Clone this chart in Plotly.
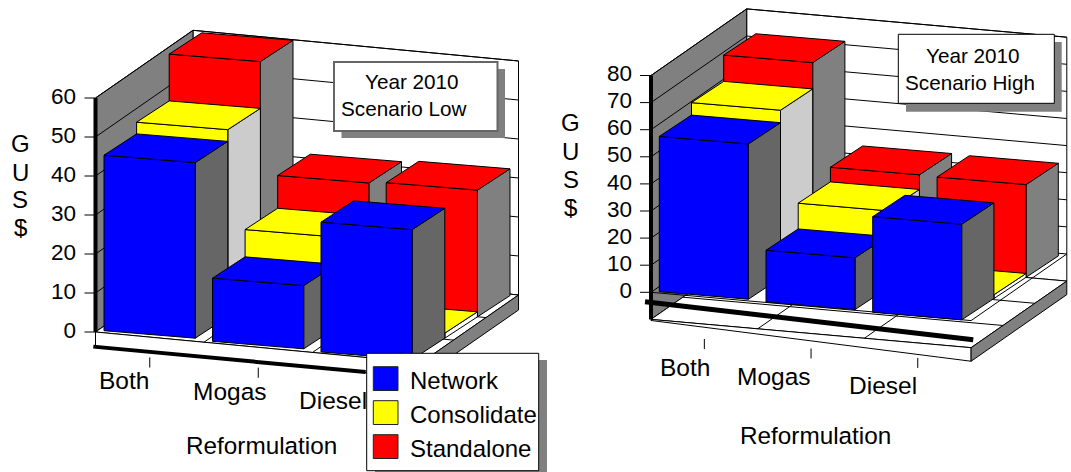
import plotly.graph_objects as go

WIDTH, HEIGHT = 1071, 472
FONT = "Liberation Sans"

# Chart data
categories = ["Both", "Mogas", "Diesel"]
series_names = ["Network", "Consolidate", "Standalone"]
series_fill = ["#0000ff", "#ffff00", "#ff0000"]
series_side = ["#666666", "#cccccc", "#808080"]

low_network = [45, 16.2, 33.3]
low_consolidate = [48, 23.2, 1.3]
low_standalone = [60, 31.6, 32.5]
low_ticks = [0, 10, 20, 30, 40, 50, 60]

high_network = [57.3, 19.1, 35.3]
high_consolidate = [61.9, 28.6, 1.4]
high_standalone = [71.6, 34, 34.2]
high_ticks = [0, 10, 20, 30, 40, 50, 60, 70, 80]

# Oblique projection settings for each panel (pixels on the page)
LOW = dict(
    xa="x", ya="y", ox=95.5, oy=332.0, ux=108.5, uy=3.9, cat_dy=10.23,
    wall_dx=97.5, wall_dy=-67.7, vmin=0, vmax=60,
    gap=8.5, bw=91.2, base_y=330.7, bar_cat_dy=10.65, face_slope=0.082,
    slot_dx=32.6, slot_dy=-21.3,
    series=[low_network, low_consolidate, low_standalone], ticks=low_ticks,
    tick_len=11, label_x=76,
)
HIGH = dict(
    xa="x2", ya="y2", ox=651.0, oy=292.3, ux=106.7, uy=2.71, cat_dy=9.43,
    wall_dx=95.7, wall_dy=-66.6, vmin=-10, vmax=80,
    gap=8.3, bw=89.0, base_y=291.7, bar_cat_dy=10.3, face_slope=0.085,
    slot_dx=32.2, slot_dy=-21.3,
    series=[high_network, high_consolidate, high_standalone], ticks=high_ticks,
    tick_len=11, label_x=632,
)

fig = go.Figure()


def wall_pt(p, c, v, t):
    """Point on the chart box: c categories across, value v, depth fraction t."""
    x = c + t * p["wall_dx"] / p["ux"]
    y = v - c * p["cat_dy"] / p["uy"] - t * p["wall_dy"] / p["uy"]
    return x, y


def bar_pt(p, cat, slot, across, v):
    """Point on a bar: cat index, depth slot, fraction across the face, value v."""
    px = p["ox"] + p["gap"] + cat * p["ux"] + slot * p["slot_dx"] + across * p["bw"]
    py = (p["base_y"] + cat * p["bar_cat_dy"] + slot * p["slot_dy"]
          + across * p["bw"] * p["face_slope"])
    return (px - p["ox"]) / p["ux"], (p["oy"] - py) / p["uy"] + v


def poly(p, pts, fill=None, line="black", width=1):
    xs = [q[0] for q in pts]
    ys = [q[1] for q in pts]
    closed = fill is not None
    if closed:
        xs.append(xs[0])
        ys.append(ys[0])
    fig.add_trace(go.Scatter(
        x=xs, y=ys, xaxis=p["xa"], yaxis=p["ya"], mode="lines",
        fill="toself" if closed else None, fillcolor=fill,
        line=dict(color=line, width=width), hoverinfo="skip", showlegend=False,
    ))


def draw_bar(p, cat, slot, value, face, side):
    front = [bar_pt(p, cat, slot, a, v) for a, v in [(0, 0), (1, 0), (1, value), (0, value)]]
    top = [bar_pt(p, cat, slot, 0, value), bar_pt(p, cat, slot, 1, value),
           bar_pt(p, cat, slot + 1, 1, value), bar_pt(p, cat, slot + 1, 0, value)]
    right = [bar_pt(p, cat, slot, 1, 0), bar_pt(p, cat, slot + 1, 1, 0),
             bar_pt(p, cat, slot + 1, 1, value), bar_pt(p, cat, slot, 1, value)]
    # Very low bars keep a pale edge so the flat top reads clearly
    poly(p, right, "white" if value < 3 else side)
    poly(p, front, face)
    poly(p, top, face)


def draw_walls(p):
    lo, hi = p["vmin"], p["vmax"]
    # back wall and left wall
    poly(p, [wall_pt(p, 0, lo, 1), wall_pt(p, 3, lo, 1), wall_pt(p, 3, hi, 1), wall_pt(p, 0, hi, 1)], "white")
    poly(p, [wall_pt(p, 0, lo, 0), wall_pt(p, 0, lo, 1), wall_pt(p, 0, hi, 1), wall_pt(p, 0, hi, 0)], "#808080")
    # gridlines across both walls
    for v in p["ticks"]:
        poly(p, [wall_pt(p, 0, v, 0), wall_pt(p, 0, v, 1), wall_pt(p, 3, v, 1)])


def draw_ticks(p):
    dx = p["tick_len"] / p["ux"]
    for v in p["ticks"]:
        poly(p, [(-dx, v), (0, v)])
    lx = (p["label_x"] - p["ox"]) / p["ux"]
    fig.add_trace(go.Scatter(
        x=[lx] * len(p["ticks"]), y=p["ticks"], xaxis=p["xa"], yaxis=p["ya"],
        mode="text", text=[str(v) for v in p["ticks"]], textposition="middle left",
        textfont=dict(family=FONT, size=22.5, color="black"),
        hoverinfo="skip", showlegend=False,
    ))


# ---- left panel: floor is a white slab under value zero ----
draw_walls(LOW)
slab = 3.85
poly(LOW, [wall_pt(LOW, 0, 0, 0), wall_pt(LOW, 3, 0, 0), wall_pt(LOW, 3, 0, 1), wall_pt(LOW, 0, 0, 1)], "white")
poly(LOW, [wall_pt(LOW, 0, 0, 0), wall_pt(LOW, 3, 0, 0), wall_pt(LOW, 3, -slab, 0), wall_pt(LOW, 0, -slab, 0)], "white")
poly(LOW, [wall_pt(LOW, 3, 0, 0), wall_pt(LOW, 3, 0, 1), wall_pt(LOW, 3, -slab, 1), wall_pt(LOW, 3, -slab, 0)], "#808080")
for c in (1, 2):
    poly(LOW, [wall_pt(LOW, c, 0, 0), wall_pt(LOW, c, 0, 1)])
for t in (1 / 3, 2 / 3):
    poly(LOW, [wall_pt(LOW, 0, 0, t), wall_pt(LOW, 3, 0, t)])

# ---- right panel: floor sits at -10 with a grid, value zero plane outlined ----
draw_walls(HIGH)
floor = HIGH["vmin"]
poly(HIGH, [wall_pt(HIGH, 0, floor, 0), wall_pt(HIGH, 3, floor, 0), wall_pt(HIGH, 3, floor, 1), wall_pt(HIGH, 0, floor, 1)], "white")
poly(HIGH, [wall_pt(HIGH, 0, floor, 0), wall_pt(HIGH, 3, floor, 0), wall_pt(HIGH, 3, floor - 5, 0), wall_pt(HIGH, 0, floor - 0.4, 0)], "white")
poly(HIGH, [wall_pt(HIGH, 3, floor, 0), wall_pt(HIGH, 3, floor, 1), wall_pt(HIGH, 3, floor - 5, 1), wall_pt(HIGH, 3, floor - 5, 0)], "#808080")
for c in (1, 2):
    poly(HIGH, [wall_pt(HIGH, c, floor, 0), wall_pt(HIGH, c, floor, 1)])
for t in (1 / 3, 2 / 3):
    poly(HIGH, [wall_pt(HIGH, 0, floor, t), wall_pt(HIGH, 3, floor, t)])
poly(HIGH, [wall_pt(HIGH, 0, 0, 0), wall_pt(HIGH, 3, 0, 0), wall_pt(HIGH, 3, 0, 1)])

# Bars are painted back row first, left to right within a row
for panel in (LOW, HIGH):
    for slot in (2, 1, 0):
        for cat in range(3):
            draw_bar(panel, cat, slot, panel["series"][slot][cat], series_fill[slot], series_side[slot])
    draw_ticks(panel)

# Thick value axes
poly(LOW, [wall_pt(LOW, 0, 0, 0), wall_pt(LOW, 0, 60, 0)], width=4)
poly(HIGH, [wall_pt(HIGH, 0, -10, 0), wall_pt(HIGH, 0, 80, 0)], width=4)

# Thick category axes and their ticks
poly(LOW, [(-0.02, -3.75), (2.49, -3.75 - 2.49 * 10.23 / 3.9)], width=4)
poly(LOW, [wall_pt(LOW, 0, 0, 0), wall_pt(LOW, 0, -3.75, 0)])
poly(HIGH, [(-0.056, -3.5), (3.02, -17.5)], width=5)
for c in range(2):
    poly(LOW, [wall_pt(LOW, c + 0.5, -5.2, 0), wall_pt(LOW, c + 0.5, -7.8, 0)])
for c in range(3):
    poly(HIGH, [wall_pt(HIGH, c + 0.5, -15.5, 0), wall_pt(HIGH, c + 0.5, -19.2, 0)])

shapes = []
annotations = []


def fx(px):
    return px / WIDTH


def fy(py):
    return 1 - py / HEIGHT


def rect(x0, y0, x1, y1, fill, line=None, width=1):
    shapes.append(dict(
        type="rect", xref="paper", yref="paper", layer="above",
        x0=fx(x0), x1=fx(x1), y0=fy(y1), y1=fy(y0), fillcolor=fill,
        line=dict(color=line or fill, width=width if line else 0),
    ))


def label(text, x, y, size, anchor="center"):
    annotations.append(dict(
        text=text, xref="paper", yref="paper", x=fx(x), y=fy(y), showarrow=False,
        xanchor=anchor, yanchor="middle", align="center",
        font=dict(family=FONT, size=size, color="black"),
    ))


# Category labels, axis titles
for name, x, y in zip(categories, [123.7, 229.7, 332.8], [380.7, 391.7, 400]):
    label(name, x, y, 24.5)
for name, x, y in zip(categories, [684.6, 774, 883], [367.7, 376.7, 385.7]):
    label(name, x, y, 24.5)
label("Reformulation", 261.7, 445, 24.3)
label("Reformulation", 815.5, 435, 24.3)
for letter, y in zip("GUS$", [143.3, 172.3, 199.8, 227.7]):
    label(letter, 20.3, y, 24)
    label(letter, 570.5, y - 20.5, 24)

# Caption boxes
rect(341.5, 69, 505, 138, "#808080")
rect(334, 62, 497.5, 131, "white", "#666666", 2)
label("Year 2010", 412, 82, 20.7)
label("Scenario Low", 403, 108, 20.7)
rect(906, 42, 1061.7, 111.7, "#808080")
rect(898.3, 34.3, 1054.3, 103.3, "white", "black")
label("Year 2010", 972.8, 55, 20.7)
label("Scenario High", 969.8, 82.3, 20.7)

# Legend panel
rect(375, 360, 547, 472, "#808080")
rect(366.7, 353.3, 538.7, 470.7, "white", "black")
for color, name, top, mid in zip(series_fill, series_names, [366.7, 400.7, 434.7], [380, 414.3, 448.3]):
    rect(373.3, top, 398, top + 23.8, color, "#222222")
    label(name, 407.5, mid, 24, anchor="left")

axis = dict(visible=False, fixedrange=True, domain=[0, 1])
fig.update_layout(
    width=WIDTH, height=HEIGHT, margin=dict(l=0, r=0, t=0, b=0),
    paper_bgcolor="white", plot_bgcolor="rgba(0,0,0,0)", showlegend=False,
    shapes=shapes, annotations=annotations,
    xaxis=dict(axis, range=[-LOW["ox"] / LOW["ux"], (WIDTH - LOW["ox"]) / LOW["ux"]]),
    yaxis=dict(axis, range=[(LOW["oy"] - HEIGHT) / LOW["uy"], LOW["oy"] / LOW["uy"]]),
    xaxis2=dict(axis, range=[-HIGH["ox"] / HIGH["ux"], (WIDTH - HIGH["ox"]) / HIGH["ux"]], overlaying="x"),
    yaxis2=dict(axis, range=[(HIGH["oy"] - HEIGHT) / HIGH["uy"], HIGH["oy"] / HIGH["uy"]], overlaying="y"),
)

fig.write_html("out.html", config=dict(displayModeBar=False))
